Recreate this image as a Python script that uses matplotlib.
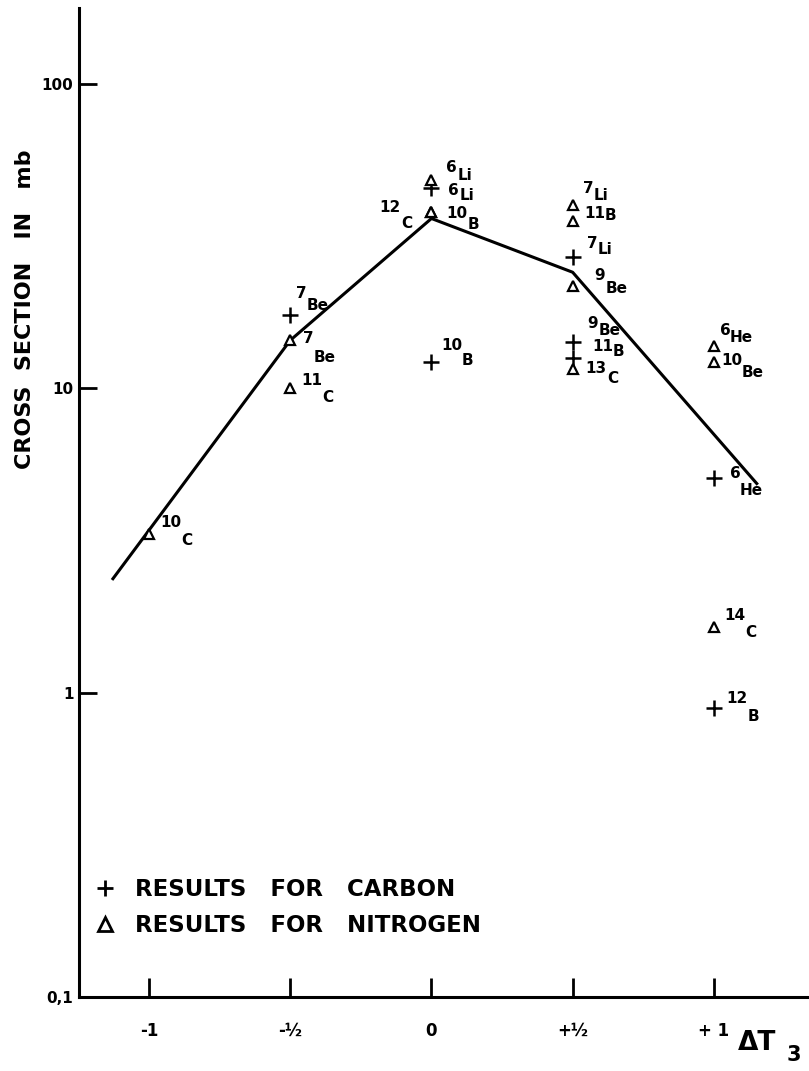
import matplotlib
matplotlib.use("Agg")
import matplotlib.pyplot as plt
from matplotlib.lines import Line2D
from matplotlib.ticker import FixedLocator, FixedFormatter

# isospin change vs. cross section (mb)
line_dt3 = [-1.128, -0.5, 0.0, 0.5, 1.152]
line_sigma = [2.37, 14.4, 36.2, 24.1, 4.87]

carbon_dt3 = [-0.5, 0.0, 0.0, 0.5, 0.5, 0.5, 1.0, 1.0]
carbon_sigma = [17.4, 45.5, 12.2, 27.0, 14.2, 12.6, 5.09, 0.89]
carbon_mass = ["7", "6", "10", "7", "9", "11", "6", "12"]
carbon_elem = ["Be", "Li", "B", "Li", "Be", "B", "He", "B"]

nitrogen_dt3 = [-1.0, -0.5, -0.5, 0.0, 0.0, 0.0, 0.5, 0.5, 0.5, 0.5, 1.0, 1.0, 1.0]
nitrogen_sigma = [3.33, 14.4, 10.0, 48.3, 37.9, 37.9, 40.0, 35.4, 21.7, 11.6, 13.8, 12.2, 1.64]
nitrogen_mass = ["10", "7", "11", "6", "10", "12", "7", "11", "9", "13", "6", "10", "14"]
nitrogen_elem = ["C", "Be", "C", "Li", "B", "C", "Li", "B", "Be", "C", "He", "Be", "C"]

x_ticks = [-1, -0.5, 0, 0.5, 1]
x_ticklabels = ["-1", "-½", "0", "+½", "+ 1"]
y_ticks = [0.1, 1, 10, 100]
y_ticklabels = ["0,1", "1", "10", "100"]

# label placement in pixels: (mass dx, mass dy, gap before element, element drop)
carbon_offsets = [(6, 22, 0, -12), (17, -2, 0, -5), (10, 17, -1, -15), (14, 14, 0, -6),
                  (15, 19, 0, -7), (20, 11, -1, -5), (16, 4, -1, -17), (12, 10, 1, -18)]
nitrogen_offsets = [(11, 11, 0, -18), (13, 2, 0, -19), (11, 8, 0, -17), (15, 13, 0, -8),
                    (15, -1, 0, -11), (-52, 5, 1, -16), (10, 17, 0, -7), (12, 8, -1, -2),
                    (22, 11, 0, -13), (13, 0, 0, -10), (6, 15, -1, -7), (7, 2, 0, -12),
                    (10, 12, 0, -17)]

plt.rcParams["font.family"] = ["DejaVu Sans"]
plt.rcParams["font.weight"] = "bold"

fig = plt.figure(figsize=(8.09, 10.71), dpi=100)
ax = fig.add_axes([0.0977, 0.0691, 0.9023, 0.9234])

ax.set_yscale("log")
ax.set_xlim(-1.248, 1.337)
ax.set_ylim(0.1, 178)

ax.plot(line_dt3, line_sigma, color="black", lw=2.2)
ax.plot(carbon_dt3, carbon_sigma, ls="none", marker="+", ms=11, mew=1.8, color="black")
ax.plot(nitrogen_dt3, nitrogen_sigma, ls="none", marker="^", ms=7, mew=1.6,
        mfc="white", mec="black")


def label_points(xs, ys, masses, elems, offsets):
    # mass number raised, element symbol set just after it and dropped
    for x, y, m, e, (mdx, mdy, gap, drop) in zip(xs, ys, masses, elems, offsets):
        mt = ax.annotate(m, (x, y), xytext=(mdx, mdy), textcoords="offset pixels",
                         ha="left", va="center", fontsize=11, fontweight="bold")
        ax.annotate(e, (1, 0.5), xycoords=mt, xytext=(gap, drop),
                    textcoords="offset pixels", ha="left", va="center",
                    fontsize=11, fontweight="bold")


label_points(carbon_dt3, carbon_sigma, carbon_mass, carbon_elem, carbon_offsets)
label_points(nitrogen_dt3, nitrogen_sigma, nitrogen_mass, nitrogen_elem, nitrogen_offsets)

for side in ["top", "right"]:
    ax.spines[side].set_visible(False)
for side in ["left", "bottom"]:
    ax.spines[side].set_linewidth(2.2)

ax.xaxis.set_major_locator(FixedLocator(x_ticks))
ax.xaxis.set_major_formatter(FixedFormatter(x_ticklabels))
ax.yaxis.set_major_locator(FixedLocator(y_ticks))
ax.yaxis.set_major_formatter(FixedFormatter(y_ticklabels))
ax.yaxis.set_minor_locator(FixedLocator([]))
ax.tick_params(axis="x", direction="in", length=14, width=2, pad=18, labelsize=12)
ax.tick_params(axis="y", direction="in", length=13, width=2, pad=4, labelsize=11)

fig.text(0.031, 0.711, "CROSS  SECTION   IN   mb", rotation=90, ha="center", va="center",
         fontsize=16, fontweight="bold")
fig.text(0.912, 0.026, "ΔT", ha="left", va="center", fontsize=19, fontweight="bold")
fig.text(0.972, 0.015, "3", ha="left", va="center", fontsize=15, fontweight="bold")

handles = [
    Line2D([], [], ls="none", marker="+", ms=12, mew=2, color="black"),
    Line2D([], [], ls="none", marker="^", ms=10, mew=2, mfc="white", mec="black"),
]
ax.legend(handles, ["RESULTS   FOR   CARBON", "RESULTS   FOR   NITROGEN"],
          loc="upper left", bbox_to_anchor=(0.087, 0.199), bbox_transform=fig.transFigure,
          frameon=False, handletextpad=0.7, handlelength=1.2, labelspacing=0.55,
          prop={"size": 16.5, "weight": "bold"})

fig.savefig("out.png", dpi=100)
